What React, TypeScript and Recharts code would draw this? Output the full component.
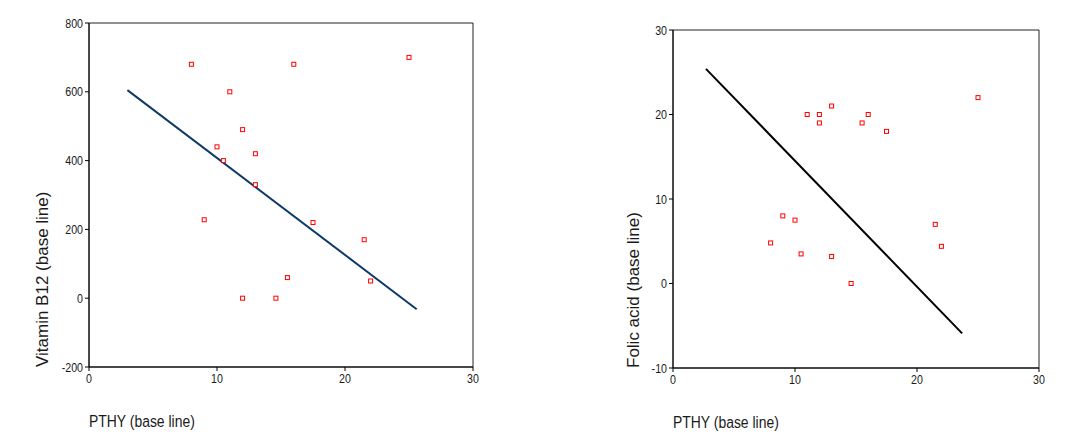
import { ScatterChart, Scatter, XAxis, YAxis, ReferenceLine, ReferenceArea, Label } from "recharts";

// PTHY at base line, paired with each marker value
const pthy = [8, 9, 10, 10.5, 11, 12, 12, 13, 13, 14.6, 15.5, 16, 17.5, 21.5, 22, 25];
const vitaminB12 = [680, 228, 440, 400, 600, 490, 0, 420, 330, 0, 60, 680, 220, 170, 50, 700];
const folicAcid = [4.8, 8, 7.5, 3.5, 20, 20, 19, 21, 3.2, 0, 19, 20, 18, 7, 4.4, 22];

const xTicks = [0, 10, 20, 30];
const b12Ticks = [-200, 0, 200, 400, 600, 800];
const folicTicks = [-10, 0, 10, 20, 30];

// fitted line end points
const b12FitX = [3, 25.6];
const b12FitY = [605, -32];
const folicFitX = [2.7, 23.7];
const folicFitY = [25.4, -5.9];

const font = "'Liberation Sans', Arial, sans-serif";
const textColor = "#1a1a1a";
const squeeze = 0.82; // the source used a narrow face for ticks

const SquareMarker = (props: any) => {
  const { cx, cy } = props;
  if (cx == null || cy == null) return null;
  return <rect x={cx - 2} y={cy - 2} width={4} height={4} fill="#fff" stroke="#ff0000" strokeWidth={1} />;
};

const NarrowTick = (props: any) => {
  const { x, y, payload, textAnchor, orientation } = props;
  const dy = orientation === "bottom" ? "0.71em" : "0.355em";
  return (
    <text
      transform={`translate(${x} ${y}) scale(${squeeze} 1)`}
      textAnchor={textAnchor}
      dy={dy}
      fill={textColor}
      fontSize={13}
      fontFamily={font}
    >
      {payload.value}
    </text>
  );
};

type PanelProps = {
  values: number[];
  yTicks: number[];
  fitX: number[];
  fitY: number[];
  lineColor: string;
  yLabel: string;
  yLabelX: number;
  axisWidth: number;
  margin: { top: number; right: number; bottom: number; left: number };
};

function Panel({ values, yTicks, fitX, fitY, lineColor, yLabel, yLabelX, axisWidth, margin }: PanelProps) {
  const data = pthy.map((x, i) => ({ x, y: values[i] }));
  const yMin = yTicks[0];
  const yMax = yTicks[yTicks.length - 1];

  return (
    <ScatterChart width={540} height={441} margin={margin}>
      <ReferenceArea x1={0} x2={30} y1={yMin} y2={yMax} fill="none" fillOpacity={0} stroke="#222" strokeWidth={1} />
      <XAxis
        type="number"
        dataKey="x"
        domain={[0, 30]}
        ticks={xTicks}
        height={30}
        tickSize={4}
        tickMargin={3}
        tick={<NarrowTick orientation="bottom" />}
        axisLine={{ stroke: "#000" }}
        tickLine={{ stroke: "#000" }}
      >
        <Label
          content={({ viewBox }: any) => (
            <text
              transform={`translate(${viewBox.x} ${viewBox.y + 54}) scale(${squeeze} 1)`}
              dominantBaseline="central"
              fill={textColor}
              fontSize={17}
              fontFamily={font}
            >
              PTHY (base line)
            </text>
          )}
        />
      </XAxis>
      <YAxis
        type="number"
        dataKey="y"
        domain={[yMin, yMax]}
        ticks={yTicks}
        width={axisWidth}
        tickSize={4}
        tickMargin={2}
        tick={<NarrowTick orientation="left" />}
        axisLine={{ stroke: "#000" }}
        tickLine={{ stroke: "#000" }}
      >
        <Label
          content={({ viewBox }: any) => {
            const by = viewBox.y + viewBox.height;
            return (
              <text
                x={yLabelX}
                y={by}
                transform={`rotate(-90 ${yLabelX} ${by})`}
                dominantBaseline="central"
                textAnchor="start"
                fill={textColor}
                fontSize={17}
                fontFamily={font}
              >
                {yLabel}
              </text>
            );
          }}
        />
      </YAxis>
      <ReferenceLine
        segment={[
          { x: fitX[0], y: fitY[0] },
          { x: fitX[1], y: fitY[1] },
        ]}
        stroke={lineColor}
        strokeWidth={2}
      />
      <Scatter data={data} shape={SquareMarker} isAnimationActive={false} />
    </ScatterChart>
  );
}

export default function App() {
  return (
    <div style={{ position: "absolute", left: 0, top: 0, width: 1080, height: 441, background: "#fff", display: "flex" }}>
      <Panel
        values={vitaminB12}
        yTicks={b12Ticks}
        fitX={b12FitX}
        fitY={b12FitY}
        lineColor="#0e3a66"
        yLabel="Vitamin B12 (base line)"
        yLabelX={42}
        axisWidth={89}
        margin={{ top: 23, right: 67, bottom: 44, left: 0 }}
      />
      <Panel
        values={folicAcid}
        yTicks={folicTicks}
        fitX={folicFitX}
        fitY={folicFitY}
        lineColor="#000"
        yLabel="Folic acid (base line)"
        yLabelX={93}
        axisWidth={133}
        margin={{ top: 30, right: 41, bottom: 43, left: 0 }}
      />
    </div>
  );
}
